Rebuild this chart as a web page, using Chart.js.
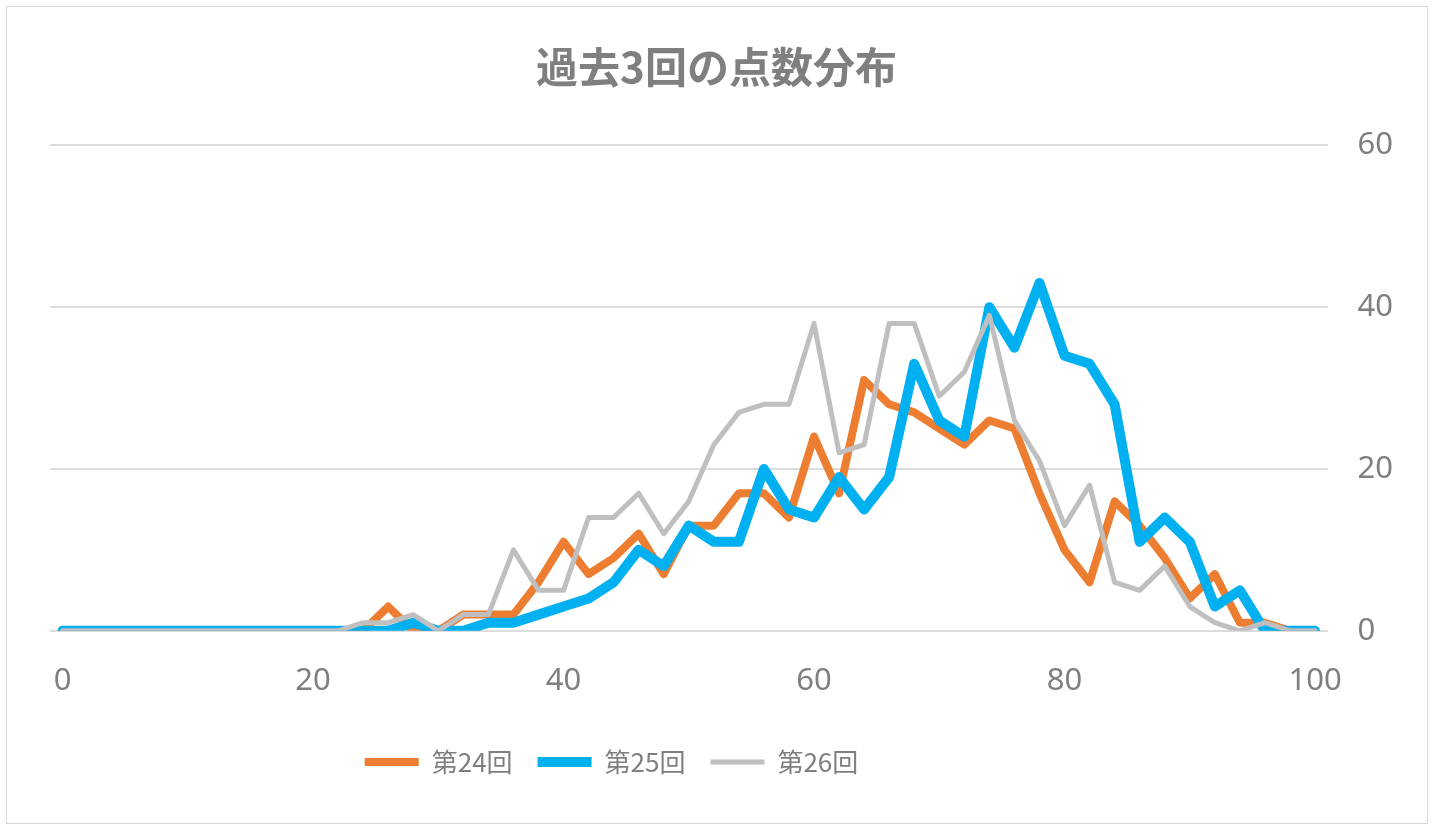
<!DOCTYPE html>
<html>
<head>
<meta charset="utf-8">
<script src="https://cdn.jsdelivr.net/npm/chart.js@4/dist/chart.umd.min.js"></script>
<style>
  body { margin: 0; background: #fff; }
  .box { position: absolute; left: 6px; top: 6px; width: 1420px; height: 816px; border: 1px solid #d9d9d9; }
  canvas { display: block; }
</style>
</head>
<body>
<div class="box"><canvas id="chart" width="1420" height="816"></canvas></div>
<script>
const scores = [0, 2, 4, 6, 8, 10, 12, 14, 16, 18, 20, 22, 24, 26, 28, 30, 32, 34, 36, 38, 40,
  42, 44, 46, 48, 50, 52, 54, 56, 58, 60, 62, 64, 66, 68, 70, 72, 74, 76, 78, 80,
  82, 84, 86, 88, 90, 92, 94, 96, 98, 100];

const round24 = [0, 0, 0, 0, 0, 0, 0, 0, 0, 0, 0, 0, 0,
  3, 0, 0, 2, 2, 2, 6, 11, 7, 9, 12, 7, 13, 13, 17, 17, 14, 24, 17, 31, 28, 27, 25, 23,
  26, 25, 17, 10, 6, 16, 13, 9, 4, 7, 1, 1, 0, 0];

const round25 = [0, 0, 0, 0, 0, 0, 0, 0, 0, 0, 0, 0, 0,
  0, 1, 0, 0, 1, 1, 2, 3, 4, 6, 10, 8, 13, 11, 11, 20, 15, 14, 19, 15, 19, 33, 26, 24,
  40, 35, 43, 34, 33, 28, 11, 14, 11, 3, 5, 0, 0, 0];

const round26 = [0, 0, 0, 0, 0, 0, 0, 0, 0, 0, 0, 0,
  1, 1, 2, 0, 2, 2, 10, 5, 5, 14, 14, 17, 12, 16, 23, 27, 28, 28, 38, 22, 23, 38, 38, 29,
  32, 39, 26, 21, 13, 18, 6, 5, 8, 3, 1, 0, 1, 0, 0];

const seriesNames = ["第24回", "第25回", "第26回"];
const yTicks = [0, 20, 40, 60];

const grey = "#7f7f7f";
const cjk = "'Noto Sans CJK JP', 'Noto Sans', sans-serif";

const makeSet = (label, data, color, width, order) => ({
  label: label,
  data: data,
  borderColor: color,
  backgroundColor: color,
  borderWidth: width,
  borderCapStyle: "round",
  borderJoinStyle: "round",
  pointRadius: 0,
  pointHoverRadius: 0,
  tension: 0,
  order: order,
});

// title and legend in the original sit left of centre, so nudge them after layout
const nudgeBoxes = {
  id: "nudgeBoxes",
  afterLayout(chart) {
    const lg = chart.legend;
    if (lg) {
      lg.left -= 125;
      lg.right -= 125;
    }
    const tb = chart.titleBlock;
    if (tb) {
      tb.left -= 20;
      tb.right -= 20;
    }
  },
};

new Chart(document.getElementById("chart"), {
  type: "line",
  data: {
    labels: scores,
    datasets: [
      makeSet(seriesNames[0], round24, "#ed7d31", 8, 3),
      makeSet(seriesNames[1], round25, "#00b0f0", 10, 2),
      makeSet(seriesNames[2], round26, "#bfbfbf", 5, 1),
    ],
  },
  options: {
    responsive: false,
    animation: false,
    layout: { padding: { top: 10, left: 43, right: 4, bottom: 38 } },
    plugins: {
      title: {
        display: true,
        text: "過去3回の点数分布",
        color: grey,
        font: { family: cjk, size: 42, weight: "bold" },
        padding: { top: 25, bottom: 53 },
      },
      legend: {
        position: "bottom",
        labels: {
          usePointStyle: true,
          pointStyle: "line",
          pointStyleWidth: 54,
          color: grey,
          font: { family: cjk, size: 26 },
          padding: 25,
          sort: (a, b) => a.datasetIndex - b.datasetIndex,
        },
      },
      tooltip: { enabled: false },
    },
    scales: {
      x: {
        offset: true,
        grid: { display: false },
        border: { display: false },
        ticks: {
          autoSkip: false,
          maxRotation: 0,
          color: grey,
          font: { family: "'Noto Sans', sans-serif", size: 31 },
          padding: 24,
          callback: function (val, i) {
            const s = scores[i];
            return s % 20 === 0 ? String(s) : "";
          },
        },
      },
      y: {
        position: "right",
        min: yTicks[0],
        max: yTicks[yTicks.length - 1],
        afterBuildTicks: (axis) => {
          axis.ticks = yTicks.map((v) => ({ value: v }));
        },
        grid: { color: "#dcdcdc", lineWidth: 2, drawTicks: false },
        border: { display: false },
        ticks: {
          color: grey,
          font: { family: "'Noto Sans', sans-serif", size: 31 },
          padding: 30,
        },
      },
    },
  },
  plugins: [nudgeBoxes],
});
</script>
</body>
</html>
